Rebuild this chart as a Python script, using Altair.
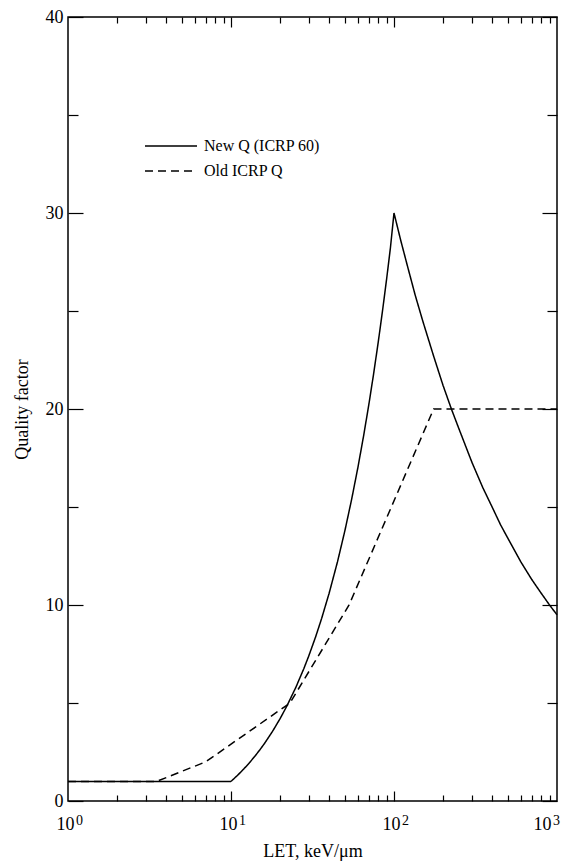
import altair as alt
import pandas as pd

# ---- data ----
let_new = [1, 10, 11, 12, 13, 14, 15, 16, 18, 20, 22, 25, 28, 30, 33, 36, 40, 45,
           50, 55, 60, 65, 70, 75, 80, 85, 90, 95, 100,
           110, 120, 135, 150, 175, 200, 225, 250, 300, 350, 400, 450, 500,
           600, 700, 800, 900, 1000]
q_new = [1.0, 1.0, 1.32, 1.64, 1.96, 2.28, 2.6, 2.92, 3.56, 4.2, 4.84, 5.8, 6.76,
         7.4, 8.36, 9.32, 10.6, 12.2, 13.8, 15.4, 17.0, 18.6, 20.2, 21.8, 23.4,
         25.0, 26.6, 28.2, 30.0,
         28.6, 27.4, 25.8, 24.5, 22.7, 21.2, 20.0, 19.0, 17.3, 16.0, 15.0, 14.1,
         13.4, 12.2, 11.3, 10.6, 10.0, 9.5]
let_old = [1, 3.5, 7, 23, 53, 175, 1000]
q_old = [1.0, 1.0, 2.0, 5.0, 10.0, 20.0, 20.0]
series_names = ["New Q (ICRP 60)", "Old ICRP Q"]

x_decades = [1, 10, 100, 1000]
x_inner_decades = [10, 100]
x_minor = [2, 3, 4, 5, 6, 7, 8, 9, 20, 30, 40, 50, 60, 70, 80, 90,
           200, 300, 400, 500, 600, 700, 800, 900]
y_major = [0, 10, 20, 30, 40]
y_minor = [5, 15, 25, 35]

W, H = 489, 784
FONT = "Liberation Serif"

df = pd.concat([
    pd.DataFrame({"L": let_new, "Q": q_new, "series": series_names[0]}),
    pd.DataFrame({"L": let_old, "Q": q_old, "series": series_names[1]}),
], ignore_index=True)

xs = alt.Scale(type="log", domain=[1, 1000])
ys = alt.Scale(domain=[0, 40], nice=False, zero=False)

base = alt.Chart(df)

lines = base.mark_line(color="black", strokeWidth=1.5).encode(
    x=alt.X("L:Q", scale=xs, axis=alt.Axis(
        orient="bottom", values=x_decades, labelExpr="'10'", ticks=False, tickSize=0,
        grid=False, domain=False, labelFont=FONT, labelColor="black",
        labelFontSize=18,
        labelOffset={"condition": {"test": "datum.value == 1000", "value": -15},
                     "value": -3},
        labelPadding=14, labelFlush=False,
        labelOverlap=False, labelBound=False,
        title="LET, keV/μm", titleFont=FONT, titleFontWeight="normal",
        titleColor="black", titleFontSize=18, titleX=W / 2, titleY=55,
        titleBaseline="alphabetic")),
    y=alt.Y("Q:Q", scale=ys, axis=alt.Axis(
        orient="left", values=y_major, ticks=False, tickSize=0, grid=False,
        domain=False, labelFont=FONT, labelColor="black",
        labelFontSize=18, labelPadding=5, labelFlush=False, labelOverlap=False,
        title="Quality factor", titleFont=FONT, titleFontWeight="normal",
        titleColor="black", titleFontSize=18, titleX=-46, titleY=H / 2,
        titleBaseline="middle", titleAngle=270)),
    strokeDash=alt.StrokeDash("series:N", scale=alt.Scale(
        domain=series_names, range=[[1, 0], [8, 5]]),
        legend=alt.Legend(
            title=None, orient="none", legendX=76, legendY=121,
            symbolType="stroke", symbolSize=2704, symbolStrokeWidth=1.5,
            symbolStrokeColor="black", labelFont=FONT, labelFontSize=16,
            labelColor="black", labelOffset=6, clipHeight=16, rowPadding=9)),
)


def xaxis_layer(axis):
    return base.mark_point(opacity=0).encode(
        x=alt.X("L:Q", scale=xs, axis=axis),
        y=alt.Y("Q:Q", scale=ys, axis=None))


def yaxis_layer(axis):
    return base.mark_point(opacity=0).encode(
        x=alt.X("L:Q", scale=xs, axis=None),
        y=alt.Y("Q:Q", scale=ys, axis=axis))


exp_layer = xaxis_layer(alt.Axis(
    orient="bottom", values=x_decades,
    labelExpr="format(log(datum.value)/LN10, 'd')", ticks=False, tickSize=0,
    grid=False, domain=False, labelFont=FONT, labelColor="black",
    labelFontSize=14,
    labelOffset={"condition": {"test": "datum.value == 1000", "value": -1},
                 "value": 11},
    labelPadding=12, labelFlush=False,
    labelOverlap=False, labelBound=False, title=None))


def tick_axis(orient, values, size, offset):
    return alt.Axis(orient=orient, values=values, tickSize=size, offset=offset,
                    labels=False, ticks=True, title=None, tickWidth=1.2,
                    tickColor="black", grid=False, domain=False)


layers = [
    lines,
    exp_layer,
    xaxis_layer(tick_axis("top", x_minor, 6, -H)),
    xaxis_layer(tick_axis("top", x_inner_decades, 10, -H)),
    xaxis_layer(tick_axis("bottom", x_minor, 6, -H)),
    xaxis_layer(tick_axis("bottom", x_inner_decades, 10, -H)),
    yaxis_layer(tick_axis("right", y_major, 15, -W)),
    yaxis_layer(tick_axis("right", y_minor, 10, -W)),
    yaxis_layer(tick_axis("left", y_major, 15, -W)),
    yaxis_layer(tick_axis("left", y_minor, 10, -W)),
]

chart = alt.layer(*layers).resolve_axis(
    x="independent", y="independent"
).properties(
    width=W, height=H,
    background="white",
    autosize=alt.AutoSizeParams(type="none"),
    padding={"left": 60, "top": 9, "right": 6, "bottom": 60},
).configure_view(
    stroke="black", strokeWidth=1.5
).configure_axis(
    grid=False, domain=False, labelFont=FONT, titleFont=FONT,
    labelColor="black", titleColor="black", titleFontWeight="normal",
    tickColor="black"
)

chart.save("out.html", embed_options={"renderer": "svg", "actions": False})
